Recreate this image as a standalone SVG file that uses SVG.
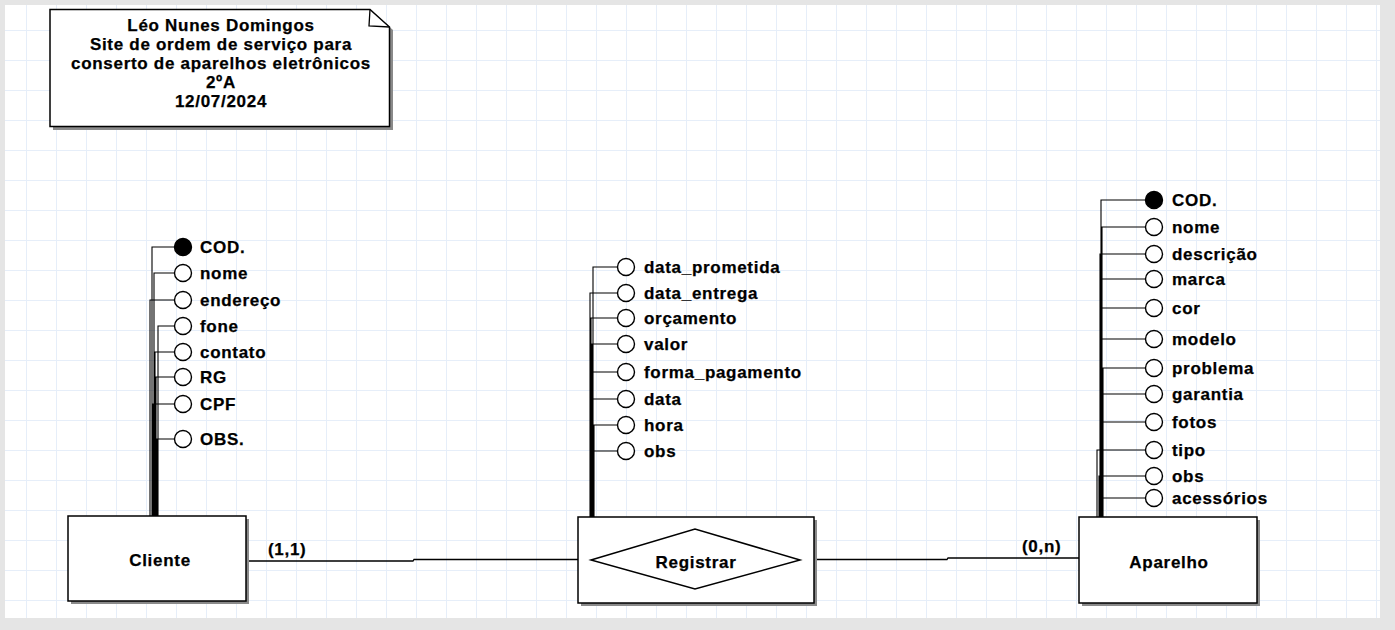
<svg xmlns="http://www.w3.org/2000/svg" width="1395" height="630" viewBox="0 0 1395 630">
<defs>
<pattern id="grid" x="26" y="30" width="30" height="30" patternUnits="userSpaceOnUse">
<path d="M0.5 0 V30 M0 0.5 H30" fill="none" stroke="#e6eef9" stroke-width="1"/>
</pattern>
</defs>
<style>
text{font-family:"Liberation Sans",Arial,sans-serif;font-weight:bold;font-size:17px;letter-spacing:0.7px;fill:#000;stroke:#000;stroke-width:0.25px}
.c{text-anchor:middle}
.box{fill:#fff;stroke:#000;stroke-width:1.5}
.sh{fill:#8a8a8a}
.conn{fill:none;stroke:#000;stroke-width:1.3}
.att{fill:none;stroke:#000;stroke-width:1.1}
.o{fill:#fff;stroke:#000;stroke-width:1.4}
.k{fill:#000;stroke:#000;stroke-width:1.4}
</style>
<rect x="0" y="0" width="1395" height="630" fill="#e5e5e5"/>
<rect x="5" y="5" width="1375" height="613" fill="#fff"/>
<rect x="5" y="5" width="1375" height="613" fill="url(#grid)"/>

<g id="note">
<path class="sh" d="M53 12 H373 L393 30 V130 H53 Z"/>
<path class="box" d="M50 9.5 H370 L389.5 27 V126.5 H50 Z"/>
<path class="conn" d="M370 9.5 L369 26 L389.5 27"/>
<text class="c" x="221" y="31">Léo Nunes Domingos</text>
<text class="c" x="221" y="50">Site de ordem de serviço para</text>
<text class="c" x="221" y="69">conserto de aparelhos eletrônicos</text>
<text class="c" x="221" y="88">2ºA</text>
<text class="c" x="221" y="107">12/07/2024</text>
</g>

<g id="connectors">
<path class="conn" d="M247 561 H413 L414 559.5 H591"/>
<path class="conn" d="M800 559.5 H947 L948 558 H1079"/>
<text x="268" y="555">(1,1)</text>
<text x="1022" y="552">(0,n)</text>
</g>

<g id="cliente">
<rect class="sh" x="71" y="519" width="178" height="85"/>
<rect class="box" x="68" y="516" width="178" height="85"/>
<text class="c" x="160" y="566">Cliente</text>
</g>
<g id="cliente-attrs">
<path class="att" d="M174 247 H152 V516 M174 273 H154 V516 M174 300 H150 V516 M174 326 H158 V516 M174 352 H155 V516 M174 377 H156 V516 M174 404 H153 V516 M174 439 H157 V516"/>
<circle class="k" cx="183" cy="247" r="8.5"/>
<circle class="o" cx="183" cy="273" r="8.5"/>
<circle class="o" cx="183" cy="300" r="8.5"/>
<circle class="o" cx="183" cy="326" r="8.5"/>
<circle class="o" cx="183" cy="352" r="8.5"/>
<circle class="o" cx="183" cy="377" r="8.5"/>
<circle class="o" cx="183" cy="404" r="8.5"/>
<circle class="o" cx="183" cy="439" r="8.5"/>
<text x="200" y="253">COD.</text>
<text x="200" y="279">nome</text>
<text x="200" y="306">endereço</text>
<text x="200" y="332">fone</text>
<text x="200" y="358">contato</text>
<text x="200" y="383">RG</text>
<text x="200" y="410">CPF</text>
<text x="200" y="445">OBS.</text>
</g>

<g id="registrar">
<rect class="sh" x="581" y="520" width="236" height="86"/>
<rect class="box" x="578" y="517" width="236" height="86"/>
<polygon class="box" points="591,560 695,529 800,560 695,589"/>
<text class="c" x="696" y="568">Registrar</text>
</g>
<g id="registrar-attrs">
<path class="att" d="M617 267 H593 V517 M617 293 H590 V517 M617 318 H591 V517 M617 344 H592 V517 M617 372 H592 V517 M617 399 H593 V517 M617 425 H594 V517 M617 451 H593 V517"/>
<circle class="o" cx="626" cy="267" r="8.5"/>
<circle class="o" cx="626" cy="293" r="8.5"/>
<circle class="o" cx="626" cy="318" r="8.5"/>
<circle class="o" cx="626" cy="344" r="8.5"/>
<circle class="o" cx="626" cy="372" r="8.5"/>
<circle class="o" cx="626" cy="399" r="8.5"/>
<circle class="o" cx="626" cy="425" r="8.5"/>
<circle class="o" cx="626" cy="451" r="8.5"/>
<text x="644" y="273">data_prometida</text>
<text x="644" y="299">data_entrega</text>
<text x="644" y="324">orçamento</text>
<text x="644" y="350">valor</text>
<text x="644" y="378">forma_pagamento</text>
<text x="644" y="405">data</text>
<text x="644" y="431">hora</text>
<text x="644" y="457">obs</text>
</g>

<g id="aparelho">
<rect class="sh" x="1082" y="520" width="178" height="86"/>
<rect class="box" x="1079" y="517" width="178" height="86"/>
<text class="c" x="1169" y="568">Aparelho</text>
</g>
<g id="aparelho-attrs">
<path class="att" d="M1145 200 H1101 V517 M1145 227 H1102 V517 M1145 254 H1100 V517 M1145 279 H1101 V517 M1145 308 H1102 V517 M1145 339 H1102 V517 M1145 368 H1103 V517 M1145 394 H1102 V517 M1145 422 H1103 V517 M1145 450 H1097 V517 M1145 476 H1099 V517 M1145 498 H1100 V517"/>
<circle class="k" cx="1154" cy="200" r="8.5"/>
<circle class="o" cx="1154" cy="227" r="8.5"/>
<circle class="o" cx="1154" cy="254" r="8.5"/>
<circle class="o" cx="1154" cy="279" r="8.5"/>
<circle class="o" cx="1154" cy="308" r="8.5"/>
<circle class="o" cx="1154" cy="339" r="8.5"/>
<circle class="o" cx="1154" cy="368" r="8.5"/>
<circle class="o" cx="1154" cy="394" r="8.5"/>
<circle class="o" cx="1154" cy="422" r="8.5"/>
<circle class="o" cx="1154" cy="450" r="8.5"/>
<circle class="o" cx="1154" cy="476" r="8.5"/>
<circle class="o" cx="1154" cy="498" r="8.5"/>
<text x="1172" y="206">COD.</text>
<text x="1172" y="233">nome</text>
<text x="1172" y="260">descrição</text>
<text x="1172" y="285">marca</text>
<text x="1172" y="314">cor</text>
<text x="1172" y="345">modelo</text>
<text x="1172" y="374">problema</text>
<text x="1172" y="400">garantia</text>
<text x="1172" y="428">fotos</text>
<text x="1172" y="456">tipo</text>
<text x="1172" y="482">obs</text>
<text x="1172" y="504">acessórios</text>
</g>
</svg>
